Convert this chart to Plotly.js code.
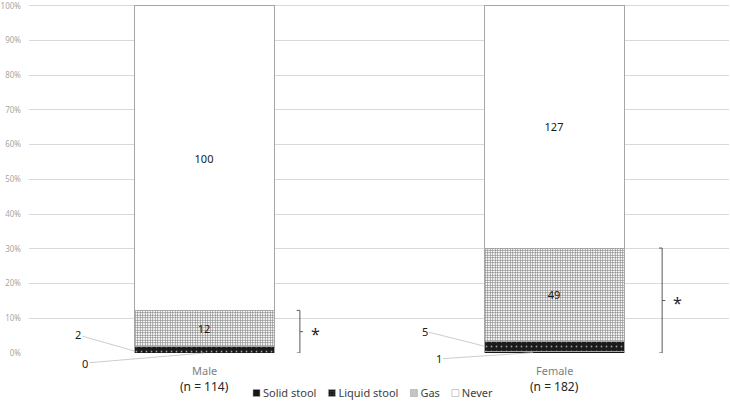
<!DOCTYPE html>
<html>
<head>
<meta charset="utf-8">
<script src="https://cdn.plot.ly/plotly-3.0.1.min.js"></script>
<style>html,body{margin:0;padding:0;background:#fff;}#chart{width:730px;height:401px;}</style>
</head>
<body>
<div id="chart"></div>
<script>
// ---- data ----
const groups = ["Male", "Female"];
const groupN = [114, 182];
const seriesNames = ["Solid stool", "Liquid stool", "Gas", "Never"];
const solidStool = [0, 1];
const liquidStool = [2, 5];
const gas = [12, 49];
const never = [100, 127];
const yTicks = [0, 10, 20, 30, 40, 50, 60, 70, 80, 90, 100];

const counts = [solidStool, liquidStool, gas, never];
const pct = counts.map(arr => arr.map((v, i) => v / groupN[i] * 100));
const xIdx = groups.map((g, i) => i);

const FONT = "Noto Sans, Open Sans, sans-serif";
const outline = {color: "#a6a6a6", width: 1};

const markers = [
  {color: "#161616", line: outline},
  {color: "#161616", line: outline,
   pattern: {shape: ".", bgcolor: "#1a1a1a", fgcolor: "#9a9a9a", size: 5, solidity: 0.1}},
  {color: "#ffffff", line: outline,
   pattern: {shape: "+", bgcolor: "#ffffff", fgcolor: "#8a8a8a", size: 2.5, solidity: 0.5}},
  {color: "#ffffff", line: outline}
];
const showText = [false, false, true, true];

const traces = counts.map((arr, k) => ({
  type: "bar",
  name: seriesNames[k],
  x: xIdx,
  y: pct[k],
  width: 0.4,
  marker: markers[k],
  text: showText[k] ? arr.map(String) : undefined,
  textposition: showText[k] ? "inside" : "none",
  insidetextanchor: "middle",
  textfont: {family: FONT, size: 11, color: "#1a1a1a"},
  hoverinfo: "skip"
}));

// annotations
const annotations = [];
groups.forEach((g, i) => {
  annotations.push({x: i, y: 0, xref: "x", yref: "y", yshift: -17, text: g, showarrow: false,
    font: {family: FONT, size: 11, color: "#7f7f7f"}});
  annotations.push({x: i, y: 0, xref: "x", yref: "y", yshift: -33, text: "(n = " + groupN[i] + ")", showarrow: false,
    font: {family: FONT, size: 12, color: "#262626"}});
});
// leader-line labels for small segments
const leaderSpec = [
  // [series, group, textX offset, textY, headX offset, headY]
  [1, 0, -0.36, 5.2, -0.2, 0.6],
  [0, 0, -0.34, -2.9, 0.0, 0.0],
  [1, 1, -0.37, 6.3, -0.2, 2.0],
  [0, 1, -0.33, -1.7, -0.06, 0.1]
];
leaderSpec.forEach(([s, gi, tx, ty, hx, hy]) => {
  annotations.push({
    x: gi + hx, y: hy, ax: gi + tx, ay: ty, axref: "x", ayref: "y", xref: "x", yref: "y",
    text: String(counts[s][gi]), showarrow: true, arrowhead: 0, arrowwidth: 0.8, arrowcolor: "#bfbfbf",
    standoff: 0, startstandoff: 0,
    font: {family: FONT, size: 11, color: "#1a1a1a"}
  });
});

// significance brackets (offset from each bar centre)
const bracketOffset = [0.274, 0.309];
const shapes = [];
groups.forEach((g, i) => {
  const top = pct[0][i] + pct[1][i] + pct[2][i];
  const xl = i + bracketOffset[i], xe = xl - 0.009, xm = xl + 0.009;
  shapes.push({type: "path", xref: "x", yref: "y",
    path: `M ${xe} 0 L ${xl} 0 L ${xl} ${top} L ${xe} ${top}`,
    line: {color: "#595959", width: 1}});
  shapes.push({type: "line", xref: "x", yref: "y", x0: xl, x1: xm, y0: top / 2, y1: top / 2,
    line: {color: "#595959", width: 1}});
  annotations.push({x: xl + 0.045, y: top / 2, xref: "x", yref: "y", text: "*", showarrow: false,
    yshift: -2, font: {family: FONT, size: 16, color: "#262626"}});
});

const layout = {
  width: 730, height: 401,
  margin: {l: 29, r: 1, t: 4, b: 48},
  paper_bgcolor: "#ffffff", plot_bgcolor: "#ffffff",
  barmode: "stack",
  hovermode: false,
  font: {family: FONT},
  xaxis: {range: [-0.5, 1.5], showticklabels: false, showgrid: false, zeroline: false, showline: false, fixedrange: true},
  yaxis: {range: [0, 100.5], tickvals: yTicks, ticktext: yTicks.map(v => v + "%"),
    tickfont: {family: FONT, size: 8, color: "#a6a6a6"}, gridcolor: "#d9d9d9", gridwidth: 1,
    ticklabelstandoff: 7, ticklabeloverflow: "allow",
    zeroline: false, showline: false, ticks: "", fixedrange: true},
  showlegend: true,
  legend: {orientation: "h", xref: "container", yref: "container", x: 0.5, xanchor: "center", y: 0, yanchor: "bottom",
    font: {family: FONT, size: 11, color: "#404040"}, itemwidth: 30, traceorder: "normal",
    bgcolor: "rgba(0,0,0,0)"},
  annotations: annotations,
  shapes: shapes
};

Plotly.newPlot("chart", traces, layout, {displayModeBar: false, staticPlot: true}).then(gd => {
  // compact legend: small square icons placed directly before their labels
  const items = Array.from(gd.querySelectorAll(".legend g.traces"));
  if (!items.length) return;
  const svgRect = gd.querySelector(".main-svg").getBoundingClientRect();
  const iconSize = 7, iconGap = 3, itemGap = 12, startX = 253, centerY = 393;
  const groupsEl = items[0].parentNode;
  const gRect = groupsEl.getScreenCTM();
  let cursor = startX - (gRect.e - svgRect.left);
  const localCY = centerY - (gRect.f - svgRect.top);
  items.forEach(it => {
    const txt = it.querySelector("text.legendtext");
    const layers = it.querySelector("g.layers") || it.querySelector("g.legendpoints");
    const wrap = document.createElementNS("http://www.w3.org/2000/svg", "g");
    layers.parentNode.insertBefore(wrap, layers);
    wrap.appendChild(layers);
    const b = wrap.getBBox();
    const s = iconSize / Math.max(b.width, b.height);
    const cx = b.x + b.width / 2, cy = b.y + b.height / 2;
    wrap.setAttribute("transform", `translate(${iconSize / 2 - s * cx},${-s * cy}) scale(${s})`);
    txt.setAttribute("x", iconSize + iconGap);
    it.setAttribute("transform", `translate(${cursor},${localCY})`);
    const tw = txt.getComputedTextLength();
    cursor += iconSize + iconGap + tw + itemGap;
  });
  const bg = gd.querySelector(".legend rect.bg");
  if (bg) bg.style.display = "none";
});
</script>
</body>
</html>
